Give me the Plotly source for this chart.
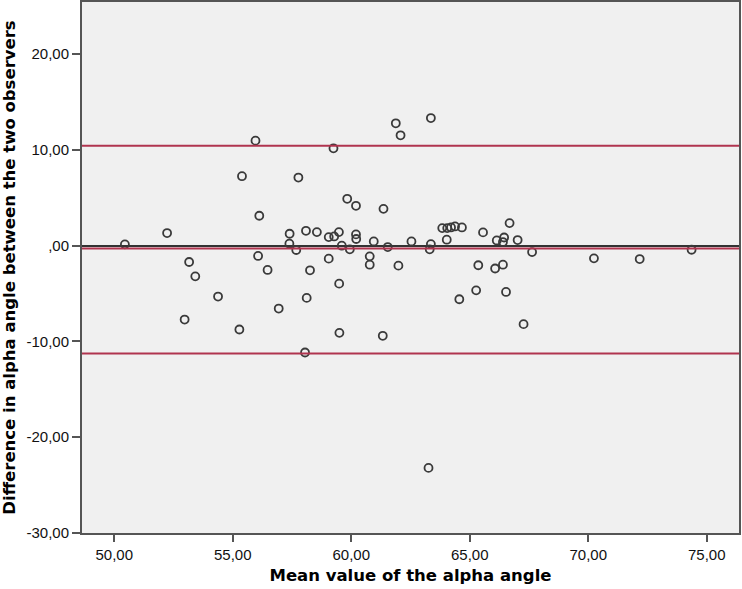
import plotly.graph_objects as go

mean_alpha = [50.45, 52.23, 52.97, 53.16, 53.42, 54.38, 55.28, 55.39, 55.96, 56.07,
              56.12, 56.47, 56.94, 57.40, 57.39, 57.68, 57.77, 58.05, 58.09, 58.12,
              58.26, 58.55, 59.05, 59.05, 59.25, 59.28, 59.48, 59.49, 59.50, 59.60,
              59.83, 59.94, 60.20, 60.20, 60.21, 60.78, 60.78, 60.95, 61.33, 61.36,
              61.54, 61.88, 61.99, 62.08, 62.54, 63.26, 63.31, 63.36, 63.36, 63.84,
              64.03, 64.05, 64.21, 64.38, 64.56, 64.67, 65.27, 65.36, 65.56, 66.07,
              66.14, 66.40, 66.40, 66.45, 66.53, 66.68, 67.02, 67.27, 67.63, 70.24,
              72.17, 74.36]
diff_alpha = [0.14, 1.32, -7.71, -1.70, -3.20, -5.31, -8.75, 7.26, 10.97, -1.07,
              3.13, -2.53, -6.56, 1.25, 0.21, -0.45, 7.12, -11.15, 1.56, -5.45,
              -2.57, 1.42, 0.90, -1.35, 10.17, 0.97, 1.42, -3.96, -9.10, 0.00,
              4.90, -0.38, 4.17, 1.18, 0.70, -1.11, -1.98, 0.45, -9.41, 3.85,
              -0.14, 12.78, -2.08, 11.53, 0.45, -23.20, -0.38, 0.17, 13.33, 1.84,
              0.63, 1.84, 1.91, 2.01, -5.59, 1.91, -4.66, -2.04, 1.39, -2.38,
              0.55, -1.98, 0.38, 0.86, -4.83, 2.36, 0.59, -8.19, -0.66, -1.32,
              -1.39, -0.42]

# Bland-Altman reference lines: upper LoA, mean difference, lower LoA
limit_lines = [10.45, -0.30, -11.25]

x_tickvals = [50, 55, 60, 65, 70, 75]
x_ticktext = ["50,00", "55,00", "60,00", "65,00", "70,00", "75,00"]
y_tickvals = [-30, -20, -10, 0, 10, 20]
y_ticktext = ["-30,00", "-20,00", "-10,00", ",00", "10,00", "20,00"]

fig = go.Figure()
fig.add_trace(go.Scatter(
    x=mean_alpha, y=diff_alpha, mode="markers",
    marker=dict(symbol="circle-open", size=8, color="#3a3a3a",
                line=dict(width=1.8, color="#3a3a3a")),
    showlegend=False, hoverinfo="x+y"))

for v in limit_lines:
    fig.add_shape(type="line", xref="x domain", x0=0, x1=1, yref="y", y0=v, y1=v,
                  line=dict(color="#B0344F", width=2), layer="above")

title_font = dict(family="DejaVu Sans, Verdana, sans-serif", size=16.5,
                  color="black", weight="bold")

fig.update_layout(
    width=742, height=589,
    margin=dict(l=82, r=3, t=2, b=56, autoexpand=False),
    paper_bgcolor="white", plot_bgcolor="#F0F0F0",
    font=dict(family="Liberation Sans, Arial, sans-serif", size=15, color="#111"),
    xaxis=dict(range=[48.64, 76.36], tickvals=x_tickvals, ticktext=x_ticktext,
               showgrid=False, zeroline=False, ticks="outside", ticklen=7,
               tickwidth=2, tickcolor="#555", showline=True, linecolor="#555",
               linewidth=2, mirror=True, automargin=False,
               title=dict(text="Mean value of the alpha angle", standoff=7,
                          font=title_font)),
    yaxis=dict(range=[-30, 25.45], tickvals=y_tickvals, ticktext=y_ticktext,
               showgrid=False, zeroline=True, zerolinecolor="#333",
               zerolinewidth=1.6, ticks="outside", ticklen=8, tickwidth=2,
               tickcolor="#555", showline=True, linecolor="#555", linewidth=2,
               mirror=True, automargin=False,
               title=dict(text="Difference in alpha angle between the two observers",
                          font=title_font)),
)

fig.write_html("out.html", config={"displayModeBar": False},
               post_script="document.body.style.margin='0';")
